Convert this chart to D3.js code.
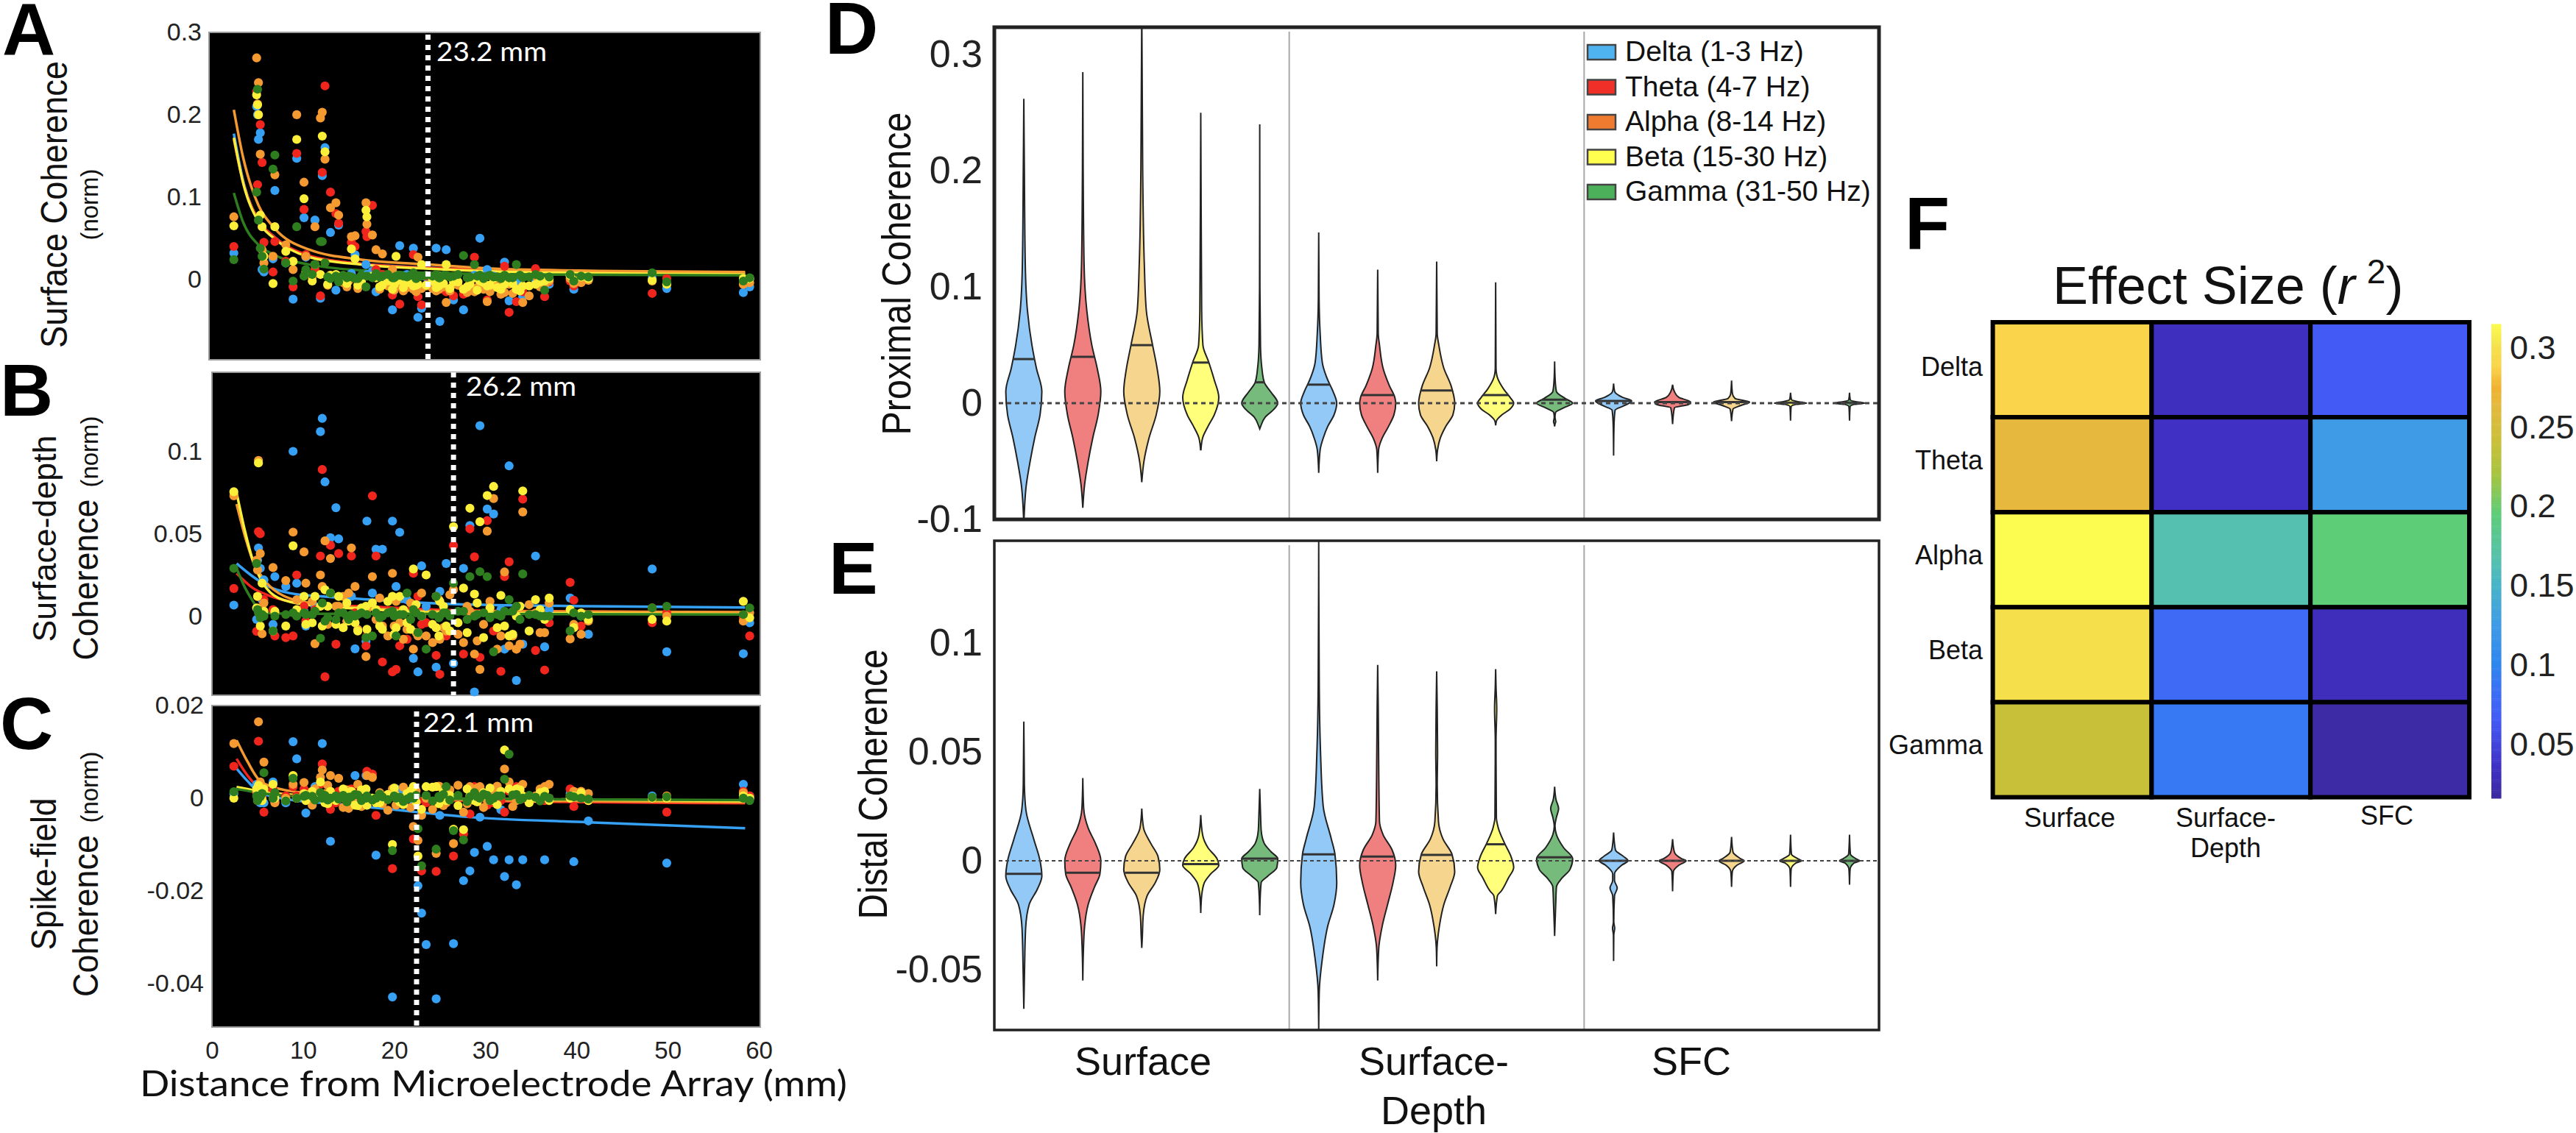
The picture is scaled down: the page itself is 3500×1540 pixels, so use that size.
<!DOCTYPE html>
<html>
<head>
<meta charset="utf-8">
<script src="https://cdn.jsdelivr.net/npm/d3@7"></script>
<style>
    html, body { margin: 0; padding: 0; background: #fff; }
    svg { display: block; }
</style>
</head>
<body>
<div id="chart"></div>
<script>
// Contact distance from the array (mm), one entry per column in the band arrays below
const distances = [
    2.4, 4.9, 5.0, 5.1, 5.3, 5.5, 5.7, 6.7, 6.9, 8.1,
    8.9, 9.3, 10.1, 10.3, 11.3, 11.9, 12.1, 12.4, 13.0, 13.6,
    13.9, 15.3, 15.7, 16.9, 17.0, 17.6, 18.0, 18.7, 19.8, 20.2,
    20.6, 21.4, 22.1, 22.6, 23.0, 23.5, 24.6, 25.0, 25.7, 26.5,
    27.6, 28.3, 28.8, 29.4, 30.2, 30.9, 31.7, 32.1, 32.6, 33.4,
    34.1, 35.5, 36.5, 37.0, 39.3, 39.7, 40.5, 41.3, 48.3, 49.9,
    58.3, 59.0
];
// Further contacts inside the dense band, only read for the top three layers
const denseDistances = [
    11.0, 12.7, 14.4, 14.8, 15.0, 16.0, 16.4, 18.4, 19.3, 20.0,
    21.0, 21.8, 22.4, 24.2, 24.9, 25.4, 26.1, 27.0, 28.0, 29.1,
    29.8, 30.5, 31.3, 33.0, 33.8, 34.8, 36.0
];

const bandColors = ['#36a0f5', '#f0261e', '#f59a30', '#fcef3a', '#2e7d1e'];

// Panel A, surface coherence
const surfaceDelta = [
    .032, .21, .2, .17, .178, .012, .009, .025, .108, .02,
    -.024, .147, .075, .027, .072, -.023, .126, .16, .057, -.013,
    .066, .007, .03, .018, .006, .01, -.015, .004, -.037, -.002,
    .041, .006, .038, -.046, -.035, .003, .038, -.051, .036, -.025,
    -.037, -.006, .005, .05, .012, .004, -.006, .021, -.026, -.002,
    -.021, -.004, -.008, -.006, .004, -.012, -.003, 0, .001, -.011,
    -.016, -.009
];
const surfaceTheta = [
    .04, .228, .115, .2, .188, .142, .045, .009, .046, .022,
    -.009, .153, .085, .03, .012, -.02, .13, .235, .106, .08,
    .068, .045, .04, .058, .052, .09, .012, .006, -.019, -.006,
    -.03, .002, .03, -.021, -.031, .004, -.008, -.012, -.015, -.02,
    -.018, -.01, .027, -.005, -.025, -.006, -.012, .016, -.04, -.027,
    -.015, .013, -.021, -.003, -.002, -.008, -.002, .002, -.017, .001,
    -.003, .001
];
const surfaceAlpha = [
    .076, .269, .213, .239, .152, .036, .02, .028, .127, .042,
    .012, .2, .118, .028, .064, .196, .203, .146, .087, .093,
    .078, .052, .053, .093, .067, .054, .036, .031, .012, -.002,
    -.008, -.01, -.012, .027, -.011, -.008, -.014, -.005, -.028, -.006,
    -.012, -.003, -.015, -.002, -.027, -.008, -.018, -.016, -.006, -.012,
    -.028, .004, -.006, -.002, .001, -.005, -.004, -.001, -.002, -.005,
    -.006, -.004
];
const surfaceBeta = [
    .065, .224, .212, .2, .078, .064, .028, -.005, .064, .034,
    .022, .17, .098, .009, .018, .006, .174, .155, .005, .006,
    .004, .037, .025, .084, .076, .004, .002, -.007, -.012, .028,
    -.001, -.004, -.008, -.006, .018, -.007, -.01, .004, .018, -.003,
    -.012, -.006, .002, -.002, -.008, .001, -.012, -.006, .002, -.012,
    -.008, -.006, -.002, .001, .005, -.001, .003, .001, -.001, -.006,
    .001, .001
];
const surfaceGamma = [
    .024, .106, .231, .072, .038, .028, .0125, .134, .151, .02,
    -.002, .064, .004, .012, .018, .046, .046, .02, .001, .004,
    -.003, .003, .001, -.009, .004, .002, .007, .004, .002, .004,
    .005, .003, .008, .003, .004, .005, .006, .002, .005, .004,
    .029, .003, .018, .005, .004, .003, .001, .005, .002, .018,
    .002, .006, -.013, .003, .006, -.002, .004, .003, .008, -.003,
    -.002, .002
];
const surfaceAlphaDense = [
    .003, -.007, -.004, -.009, -.002, -.011, -.006, -.012, -.008, -.013,
    -.014, -.009, -.015, -.011, -.012, -.009, -.014, -.007, -.016, -.01,
    -.012, -.015, -.007, -.017, -.011, -.02, -.009
];
const surfaceBetaDense = [
    -.002, -.006, .001, -.005, .002, -.007, -.003, -.009, -.002, -.006,
    -.01, -.004, -.007, -.002, -.008, -.005, -.011, -.003, -.009, -.013,
    -.004, -.007, -.01, -.005, -.014, -.008, -.003
];
const surfaceGammaDense = [
    .006, .003, .005, .002, .004, .001, .005, .003, .006, .002,
    .004, .005, .001, .004, .002, .005, .003, .006, .002, .004,
    .001, .005, .003, .002, .005, .003, .004
];

// Panel B, surface-depth coherence
const depthDelta = [
    .0067, -.002, .034, .0414, .029, .01, .022, -.005, .024, .018,
    .1, .02, .003, -.006, .006, .112, .12, .0815, .0476, .0658,
    .0469, .012, -.0198, -.0153, .0577, .014, .0406, .0406, .0577, .018,
    .0509, .01, -.0256, -.0338, .0305, .006, -.031, .015, .032, -.0287,
    .029, .055, -.046, .1156, .065, .062, .004, -.02, .0912, -.039,
    -.017, .0365, -.0186, .004, .011, -.006, 0, -.011, .0286, -.0216,
    -.0228, -.004
];
const depthTheta = [
    .0168, -.0092, .012, .0513, .05, .006, .01, .004, -.012, -.013,
    -.012, .025, .006, -.003, .004, .0365, .089, -.0368, .043, -.017,
    .038, .0365, .002, -.018, -.012, .073, .0365, -.0278, -.0338, -.0323,
    -.018, -.014, .026, .012, -.005, -.004, -.0238, -.0353, -.012, .0428,
    -.023, .053, .036, -.025, .058, -.009, -.0335, .024, .033, -.02,
    .071, -.0208, -.0327, -.004, .0205, .0097, -.006, -.002, -.004, .002,
    -.001, -.012
];
const depthAlpha = [
    .073, .034, .028, .0945, .038, -.0107, .008, .0295, .002, .0216,
    .051, .01, .039, .02, -.0167, .025, .018, .0457, .035, .006,
    .006, .0414, .018, -.0245, .004, .024, -.002, -.006, .026, .009,
    -.004, -.008, -.02, -.012, .014, -.012, .012, -.014, -.009, .016,
    -.016, .003, -.023, -.0323, .0516, .0714, -.012, .0268, -.018, -.02,
    .0632, .002, -.01, .008, -.0138, -.005, -.011, -.003, .005, 0,
    -.003, .002
];
const depthBeta = [
    .0755, .005, .012, .093, -.006, .02, .003, -.009, .003, -.006,
    .0427, .004, .012, -.005, .012, .006, -.006, .016, .014, -.005,
    .012, 0, -.004, .006, -.008, .008, .004, -.008, .012, -.007,
    .012, -.004, .0286, -.01, 0, .025, -.007, .009, -.006, .0543,
    .017, .0655, .0134, .0573, .0732, .0787, .0126, -.006, -.012, 0,
    .076, .01, -.002, .011, .004, -.007, .002, -.002, -.002, -.003,
    .009, -.001
];
const depthGamma = [
    .029, .032, .004, .002, -.001, .001, 0, -.009, 0, .001,
    .002, 0, .002, .001, .003, -.0134, .008, -.003, .014, -.002,
    .002, .001, 0, -.013, .001, -.012, .002, 0, .003, -.012,
    .001, .014, .004, -.01, 0, -.02, .012, 0, .002, .02,
    .003, .024, 0, .027, .024, -.0216, 0, .003, .01, .006,
    .0256, .001, 0, 0, -.009, .002, 0, .001, .005, .006,
    .001, .005
];
const depthAlphaDense = [
    .009, -.005, .012, -.003, .014, -.008, .003, .011, -.012, -.006,
    -.014, .008, -.01, -.016, .01, -.007, .013, -.011, .006, -.015,
    -.005, .009, -.02, -.012, -.017, .007, -.01
];
const depthBetaDense = [
    -.004, .006, -.007, .008, -.003, -.009, .005, -.006, .009, -.011,
    .004, -.008, .007, -.005, -.012, .006, -.009, -.004, -.01, .008,
    -.013, .005, -.007, -.011, .006, -.009, .004
];
const depthGammaDense = [
    .001, -.001, .002, 0, -.002, .001, .002, -.001, .002, 0,
    .001, -.002, .002, .001, -.001, .002, 0, .003, -.002, .001,
    .002, -.001, .001, .003, -.002, .001, 0
];

// Panel C, spike-field coherence
const sfcDelta = [
    .001, .003, .002, 0, -.001, .002, -.001, .0035, -.0005, -.001,
    .0122, .0085, 0, -.0032, .0025, .001, .0118, 0, -.0093, .0005,
    .0005, .001, .0049, .0049, -.0015, 0, -.0123, 0, -.0429, .002,
    .001, 0, -.0005, -.0189, -.0248, -.0316, -.0433, -.0037, 0, -.0314,
    -.0178, -.0157, -.0117, -.0041, -.0104, -.0133, -.0025, -.0169, -.0133, -.0187,
    -.0133, 0, -.0133, 0, .001, -.0137, .0005, -.0049, .0005, -.014,
    .003, .0005
];
const sfcTheta = [
    .0069, .0012, .0005, .0123, .001, 0, -.003, .002, -.0008, .0005,
    .0025, .0005, .002, 0, .0015, .003, .0074, 0, -.0024, -.001,
    .0015, .002, .001, 0, .0058, .0052, -.0037, .0005, -.0152, 0,
    0, .0005, -.0088, -.0005, -.0157, -.001, -.0158, 0, .002, -.0125,
    -.0077, -.0034, .0025, 0, -.0015, -.001, -.0005, -.003, .0015, .0025,
    .0005, 0, -.0005, 0, .002, -.0018, .0005, -.0005, 0, -.003,
    .0015, .0005
];
const sfcAlpha = [
    .0118, .0015, -.0005, .0165, .0035, 0, .0078, 0, -.001, 0,
    .003, 0, .0034, 0, .002, .0045, .0061, .001, .0049, 0,
    .0043, 0, -.0005, -.001, .0049, .0045, 0, -.0012, .002, -.0015,
    0, .0005, -.0061, -.0091, -.0037, 0, -.0119, .0025, -.001, -.0098,
    -.003, .0025, 0, .0025, -.0005, .002, .0005, .0063, .0035, -.0005,
    .003, .0005, .0025, .003, .0005, .0015, .0015, .001, 0, .0005,
    .0012, 0
];
const sfcBeta = [
    0, .002, 0, .0028, .0015, -.0005, .002, .003, 0, -.0005,
    .0049, 0, .001, -.0005, 0, .0035, .0005, -.001, .0015, -.0005,
    0, .0015, -.0015, .002, -.0015, 0, -.001, 0, -.01, .0005,
    -.0008, .001, .0025, -.0125, -.0024, .0025, .0025, 0, -.0005, -.0067,
    -.0068, .0005, -.0005, 0, .0005, -.0005, .0015, .0104, .002, .002,
    .0005, 0, .0015, -.0005, 0, .0005, .0012, -.0005, 0, 0,
    .0005, 0
];
const sfcGamma = [
    .0014, .0005, -.0005, 0, .0003, .001, .0055, 0, .0012, -.0006,
    .0043, 0, .0004, .0006, -.0004, .0012, 0, .0006, 0, .0005,
    -.0002, .0003, .0008, 0, .0005, -.0004, 0, .0003, -.0113, 0,
    .0002, -.0002, 0, -.0066, -.0146, .0006, -.011, 0, .0025, -.007,
    -.009, .0003, .0012, 0, .0006, 0, .0005, .0041, .0095, .0008,
    0, .0002, .0004, 0, .0005, .0003, 0, -.0002, .0002, .0003,
    0, -.0005
];
const sfcAlphaDense = [
    -.0015, .0028, -.002, .0018, -.0022, .003, -.0018, .0012, -.0026, .0014,
    .0024, -.002, .0016, -.0024, .0026, -.0016, .0018, .0028, -.0012, .0022,
    -.002, .0016, .0026, -.0018, .0024, -.0008, .002
];
const sfcBetaDense = [
    .0015, -.0012, .002, -.0006, .0012, -.0016, .0018, -.001, .0008, .0022,
    -.0014, .0016, -.0008, .0024, -.0012, .0014, .0006, -.0016, .002, -.0008,
    .0012, .0022, -.0014, .001, .0018, -.001, .0012
];
const sfcGammaDense = [
    .0004, -.0004, .0006, -.0008, .0002, .0007, -.0005, .0009, -.0003, .0005,
    -.0007, .0003, .0006, -.0006, .0004, .0008, -.0004, .0006, -.0007, .0003,
    .0009, -.0005, .0005, .0007, -.0003, .0006, -.0006
];

// Fitted curves, [distance, value]
const surfaceFits = [
    [[2.4, .177], [3.4, .121], [5.1, .072], [6.8, .052], [10.7, .028], [16.4, .019], [23.8, .014], [33.4, .01], [58.5, .007]],
    [[2.4, .17], [3.4, .119], [5.1, .072], [6.8, .052], [10.7, .029], [16.4, .019], [23.8, .014], [33.4, .011], [58.5, .008]],
    [[2.4, .206], [3.4, .149], [5.1, .09], [6.8, .063], [10.7, .036], [16.4, .024], [23.8, .018], [33.4, .012], [58.5, .009]],
    [[2.4, .172], [3.4, .118], [5.1, .07], [6.8, .05], [10.7, .027], [16.4, .018], [23.8, .013], [33.4, .009], [58.5, .006]],
    [[2.4, .105], [3.4, .07], [5.1, .042], [6.8, .03], [10.7, .018], [16.4, .011], [23.8, .008], [33.4, .006], [58.5, .005]]
];
const depthFits = [
    [[2.7, .032], [4.5, .024], [6.2, .018], [8.5, .014], [11.9, .012], [16.4, .0104], [26.3, .0074], [41.6, .006], [58.5, .0052]],
    [[2.7, .026], [4.5, .017], [6.2, .0126], [8.5, .009], [11.9, .0067], [16.4, .006], [26.3, .0037], [41.6, .0028], [58.5, .0022]],
    [[2.7, .068], [3.65, .048], [4.5, .0335], [5.6, .023], [7.3, .014], [10.7, .008], [16.4, .005], [26.3, .003], [58.5, .0025]],
    [[2.7, .075], [3.65, .051], [4.5, .0335], [5.6, .02], [7.3, .011], [10.7, .0067], [16.4, .0045], [26.3, .002], [58.5, .0012]],
    [[2.7, .029], [3.65, .017], [4.5, .009], [5.4, .002], [8.5, .0015], [58.5, .001]]
];
const sfcFits = [
    [[2.7, .0064], [3.9, .0037], [5.3, .0012], [8.5, -.0003], [13.6, -.0012], [22.1, -.0029], [27.7, -.004], [41.3, -.0052], [58.5, -.0065]],
    [[2.7, .0085], [3.9, .0049], [5.3, .0021], [7.9, .0009], [11.9, .0003], [19.2, -.0003], [58.5, -.0011]],
    [[2.7, .0125], [3.9, .0079], [5.3, .0037], [7.9, .0018], [11.9, .0009], [19.2, 0], [58.5, -.0009]],
    [[2.7, .0024], [6.2, .0012], [11.9, .0005], [22.1, 0], [58.5, -.0006]],
    [[2.7, .002], [6.2, .0009], [11.9, .0002], [22.1, -.0001], [58.5, -.0004]]
];

const breakTicks = [23.7, 26.5, 22.45];
const breakLabels = ['23.2 mm', '26.2 mm', '22.1 mm'];
const surfaceTicks = [0, .1, .2, .3];
const depthTicks = [0, .05, .1];
const sfcTicks = [-.04, -.02, 0, .02];
const distanceTicks = [0, 10, 20, 30, 40, 50, 60];

// Violin profiles, [value, relative density], top to bottom, five per measure
const violinFills = ['#92c9f7', '#f08080', '#f6d68e', '#ffff7c', '#76bb7c'];
const proximalMedians = [.038, .04, .05, .035, .018, .016, .007, .011, .007, .003, .002, .001, .001, .0005, .0005];
const proximalProfiles = [
    [[.262, 0], [.2, .03], [.12, .08], [.08, .2], [.05, .45], [.03, .7], [.01, 1], [-.01, .9], [-.03, .6], [-.05, .35], [-.07, .14], [-.1, .01]],
    [[.285, 0], [.2, .02], [.12, .07], [.08, .22], [.05, .5], [.03, .8], [.01, 1], [-.01, .85], [-.03, .55], [-.05, .3], [-.07, .1], [-.09, 0]],
    [[.3236, .005], [.2, .05], [.12, .14], [.08, .25], [.05, .6], [.03, .85], [.01, 1], [-.01, .8], [-.03, .4], [-.05, .12], [-.068, 0]],
    [[.25, 0], [.17, .02], [.08, .05], [.05, .12], [.035, .45], [.02, .75], [.005, 1], [-.01, .75], [-.02, .4], [-.03, .1], [-.04, .01]],
    [[.24, 0], [.1, .01], [.05, .04], [.03, .12], [.018, .25], [.01, .6], [0, 1], [-.005, .8], [-.012, .3], [-.02, .05], [-.022, 0]],
    [[.147, 0], [.09, .02], [.06, .08], [.035, .2], [.02, .5], [.01, .8], [0, 1], [-.01, .85], [-.02, .5], [-.03, .25], [-.04, .08], [-.06, 0]],
    [[.115, 0], [.06, .03], [.05, .1], [.03, .3], [.015, .65], [.005, .95], [0, 1], [-.01, .9], [-.02, .6], [-.03, .25], [-.04, .05], [-.06, 0]],
    [[.122, 0], [.06, .03], [.05, .12], [.03, .4], [.015, .8], [0, 1], [-.01, .9], [-.02, .5], [-.03, .2], [-.04, .05], [-.05, 0]],
    [[.104, 0], [.03, .02], [.022, .1], [.012, .45], [.005, .8], [0, 1], [-.005, .8], [-.01, .35], [-.015, .05], [-.019, 0]],
    [[.036, 0], [.02, .03], [.01, .1], [.004, .6], [0, 1], [-.004, .5], [-.008, .05], [-.012, .02], [-.016, .06], [-.018, .02], [-.02, 0]],
    [[.017, 0], [.01, .06], [.005, .5], [.002, 1], [-.002, .6], [-.006, .08], [-.02, .02], [-.045, 0]],
    [[.016, 0], [.01, .1], [.005, .35], [.001, 1], [-.001, .9], [-.004, .1], [-.018, 0]],
    [[.0195, 0], [.008, .05], [.004, .2], [.001, 1], [-.002, .5], [-.005, .08], [-.0155, 0]],
    [[.009, 0], [.003, .05], [.001, .5], [0, .9], [-.001, .3], [-.003, .03], [-.015, 0]],
    [[.009, 0], [.003, .04], [.001, .45], [0, .85], [-.001, .25], [-.003, .03], [-.015, 0]]
];
const distalMedians = [-.006, -.0055, -.0055, -.0015, .001, .003, .002, .0027, .0076, .0016, 0, 0, 0, 0, 0];
const distalProfiles = [
    [[.064, 0], [.035, .03], [.023, .12], [.01, .55], [0, .9], [-.007, 1], [-.013, .75], [-.02, .3], [-.031, .1], [-.05, .04], [-.068, 0]],
    [[.038, 0], [.024, .05], [.015, .3], [.008, .7], [0, 1], [-.006, .95], [-.012, .65], [-.02, .3], [-.03, .1], [-.042, .03], [-.055, 0]],
    [[.024, 0], [.015, .1], [.008, .5], [.002, .9], [-.004, 1], [-.01, .75], [-.016, .3], [-.025, .08], [-.035, .03], [-.04, 0]],
    [[.021, 0], [.012, .1], [.006, .4], [.001, .9], [-.002, 1], [-.006, .55], [-.01, .2], [-.016, .05], [-.024, 0]],
    [[.033, 0], [.02, .05], [.014, .08], [.008, .25], [.004, .65], [.001, 1], [-.003, .95], [-.007, .45], [-.01, .08], [-.018, .02], [-.025, 0]],
    [[.147, 0], [.08, .03], [.05, .1], [.025, .25], [.01, .7], [.003, .9], [-.01, 1], [-.02, .85], [-.03, .5], [-.045, .2], [-.06, .03], [-.0777, 0]],
    [[.09, 0], [.07, .03], [.04, .06], [.018, .1], [.012, .3], [.005, .8], [-.002, 1], [-.01, .85], [-.02, .55], [-.03, .25], [-.04, .06], [-.055, 0]],
    [[.087, 0], [.07, .03], [.05, .05], [.035, .03], [.018, .1], [.01, .35], [.003, .85], [-.005, 1], [-.012, .75], [-.02, .4], [-.03, .15], [-.04, .02], [-.0485, 0]],
    [[.088, 0], [.08, .02], [.07, .06], [.055, .02], [.02, .04], [.015, .15], [.008, .5], [.002, .85], [-.003, 1], [-.008, .7], [-.014, .3], [-.016, .1], [-.0245, 0]],
    [[.034, 0], [.028, .08], [.024, .22], [.02, .1], [.016, .02], [.012, .1], [.006, .5], [.001, 1], [-.004, .85], [-.008, .4], [-.012, .1], [-.02, .06], [-.0345, 0]],
    [[.013, 0], [.005, .1], [.002, .55], [0, .8], [-.002, .45], [-.006, .05], [-.009, .05], [-.0125, .2], [-.016, .05], [-.028, .01], [-.031, .06], [-.034, .01], [-.046, 0]],
    [[.01, 0], [.004, .1], [.001, .5], [0, .75], [-.002, .35], [-.005, .04], [-.014, 0]],
    [[.011, 0], [.004, .08], [.001, .5], [0, .7], [-.002, .3], [-.005, .04], [-.012, 0]],
    [[.012, 0], [.003, .05], [.001, .4], [0, .6], [-.001, .3], [-.004, .03], [-.012, 0]],
    [[.012, 0], [.003, .05], [.001, .35], [0, .55], [-.001, .25], [-.004, .03], [-.011, 0]]
];
const proximalTicks = [-.1, 0, .1, .2, .3];
const distalTicks = [-.05, 0, .05, .1];
const groupBreaks = [5.5, 10.5];
const legendLabels = ['Delta (1-3 Hz)', 'Theta (4-7 Hz)', 'Alpha (8-14 Hz)', 'Beta (15-30 Hz)', 'Gamma (31-50 Hz)'];
const legendColors = ['#4fb3f0', '#f03028', '#ef7b30', '#ffff50', '#4caf5a'];

// Effect size heatmap
const heatRows = ['Delta', 'Theta', 'Alpha', 'Beta', 'Gamma'];
const heatColumns = ['Surface', 'Surface-Depth', 'SFC'];
const heatSurface = [.288, .265, .315, .3, .24];
const heatDepth = [.032, .035, .165, .078, .09];
const heatSfc = [.065, .125, .195, .03, .018];
const colorbarTicks = [.05, .1, .15, .2, .25, .3];
const parulaStops = [.016, .035, .065, .085, .1, .125, .15, .165, .195, .22, .24, .265, .275, .288, .3, .315];
const parulaColors = ['#3b2aa0', '#4030c4', '#445af5', '#3a72f5', '#2e86ee', '#3f9be6', '#48b4c8', '#55c0b0', '#5ecd78',
    '#a8c440', '#c9c03a', '#e6b93e', '#f0b230', '#fad44a', '#f5e04c', '#fcfc50'];

const FONT = '"Liberation Sans", Arial, sans-serif';
const svg = d3.select('#chart').append('svg')
    .attr('width', 3500)
    .attr('height', 1540)
    .attr('font-family', FONT);

function label(text, x, y, size, opts = {}) {
    const t = svg.append('text')
        .attr('x', x)
        .attr('y', y)
        .attr('font-size', size)
        .attr('fill', opts.fill || '#111')
        .attr('text-anchor', opts.anchor || 'start')
        .text(text);
    if (opts.weight) t.attr('font-weight', opts.weight);
    if (opts.family) t.attr('font-family', opts.family);
    if (opts.length) t.attr('textLength', opts.length).attr('lengthAdjust', 'spacingAndGlyphs');
    return t;
}

function sideLabel(text, baseX, centerY, size, length) {
    svg.append('text')
        .attr('transform', 'translate(' + baseX + ',' + centerY + ') rotate(-90)')
        .attr('text-anchor', 'middle')
        .attr('font-size', size)
        .attr('fill', '#111')
        .attr('textLength', length)
        .attr('lengthAdjust', 'spacingAndGlyphs')
        .text(text);
}

function leftAxis(scale, x, ticks, size, padding) {
    const g = svg.append('g')
        .attr('transform', 'translate(' + x + ',0)')
        .call(d3.axisLeft(scale).tickValues(ticks).tickSize(0).tickPadding(padding).tickFormat(d => d));
    g.select('.domain').remove();
    g.selectAll('text').attr('font-size', size).attr('font-family', FONT).attr('fill', '#222');
}

// Panels A to C
const xDistance = d3.scaleLinear().domain([0, 60]).range([288, 1031]);
const fitLine = (y) => d3.line().x(d => xDistance(d[0])).y(d => y(d[1])).curve(d3.curveMonotoneX);

function scatterPanel(y, left, bands, denseBands, fits, dashTop, breakIndex, labelX, labelY, ticks, padding) {
    const [bottom, top] = y.range();
    svg.append('rect')
        .attr('x', left)
        .attr('y', top)
        .attr('width', 1033 - left)
        .attr('height', bottom - top)
        .attr('fill', '#000')
        .attr('stroke', '#9a9a9a')
        .attr('stroke-width', 2);

    const line = fitLine(y);
    svg.append('g').selectAll('path')
        .data(fits)
        .enter()
        .append('path')
        .attr('d', line)
        .attr('fill', 'none')
        .attr('stroke', (d, i) => bandColors[i])
        .attr('stroke-width', 3.5);

    bands.forEach((values, b) => {
        const points = values.map((v, i) => [distances[i], v]);
        const dense = b >= 2 ? denseBands[b - 2].map((v, i) => [denseDistances[i], v]) : [];
        svg.append('g').selectAll('circle')
            .data(points.concat(dense))
            .enter()
            .append('circle')
            .attr('cx', d => xDistance(d[0]))
            .attr('cy', d => y(d[1]))
            .attr('r', 6.1)
            .attr('fill', bandColors[b]);
    });

    svg.append('line')
        .attr('x1', xDistance(breakTicks[breakIndex]))
        .attr('x2', xDistance(breakTicks[breakIndex]))
        .attr('y1', dashTop)
        .attr('y2', bottom)
        .attr('stroke', '#fff')
        .attr('stroke-width', 7)
        .attr('stroke-dasharray', '7,7');

    label(breakLabels[breakIndex], labelX, labelY, 37, { fill: '#fff', family: 'Lato', length: 150 });
    leftAxis(y, left, ticks, 34, padding);
}

const ySurface = d3.scaleLinear().domain([-.0976, .3]).range([489, 44]);
const yDepth = d3.scaleLinear().domain([-.048, .148]).range([945, 506]);
const ySfc = d3.scaleLinear().domain([-.0494, .02]).range([1396, 959]);

scatterPanel(ySurface, 284, [surfaceDelta, surfaceTheta, surfaceAlpha, surfaceBeta, surfaceGamma],
    [surfaceAlphaDense, surfaceBetaDense, surfaceGammaDense], surfaceFits, 47, 0, 593, 83, surfaceTicks, 10);
scatterPanel(yDepth, 288, [depthDelta, depthTheta, depthAlpha, depthBeta, depthGamma],
    [depthAlphaDense, depthBetaDense, depthGammaDense], depthFits, 506, 1, 633, 538, depthTicks, 13);
scatterPanel(ySfc, 288, [sfcDelta, sfcTheta, sfcAlpha, sfcBeta, sfcGamma],
    [sfcAlphaDense, sfcBetaDense, sfcGammaDense], sfcFits, 967, 2, 575, 995, sfcTicks, 11);

const xAxisG = svg.append('g')
    .attr('transform', 'translate(0,1396)')
    .call(d3.axisBottom(xDistance).tickValues(distanceTicks).tickSize(0).tickPadding(20));
xAxisG.select('.domain').remove();
xAxisG.selectAll('text').attr('font-size', 33).attr('font-family', FONT).attr('fill', '#222');

label('Distance from Microelectrode Array (mm)', 190, 1490, 49, { family: 'Lato', length: 961 });

sideLabel('Surface Coherence', 91, 278, 50, 390);
sideLabel('(norm)', 133, 278, 33, 97);
sideLabel('Surface-depth', 76, 732, 45, 281);
sideLabel('Coherence', 133, 788, 49, 219);
sideLabel('(norm)', 133, 614, 33, 97);
sideLabel('Spike-field', 76, 1188, 49, 207);
sideLabel('Coherence', 133, 1245, 49, 220);
sideLabel('(norm)', 133, 1070, 33, 97);

// Panels D and E
const xViolin = d3.scaleLinear().domain([.5, 15.5]).range([1351, 2553]);
const halfWidth = d3.scaleLinear().domain([0, 1]).range([0, 24.5]);

function densityAt(profile, value) {
    for (let i = 1; i < profile.length; i++) {
        const a = profile[i - 1], b = profile[i];
        if (value <= a[0] && value >= b[0]) {
            return a[1] + (b[1] - a[1]) * (a[0] - value) / (a[0] - b[0]);
        }
    }
    return 0;
}

function violinPanel(y, profiles, medians, frameWidth, dashWidth, breakTop) {
    const [bottom, top] = y.range();
    const [left, right] = xViolin.range();
    svg.append('rect')
        .attr('x', left)
        .attr('y', top)
        .attr('width', right - left)
        .attr('height', bottom - top)
        .attr('fill', '#fff');

    svg.append('g').selectAll('line')
        .data(groupBreaks)
        .enter()
        .append('line')
        .attr('x1', d => xViolin(d))
        .attr('x2', d => xViolin(d))
        .attr('y1', breakTop)
        .attr('y2', bottom)
        .attr('stroke', '#a8a8a8')
        .attr('stroke-width', 2);

    profiles.forEach((profile, i) => {
        const cx = xViolin(i + 1);
        const area = d3.area()
            .y(d => y(d[0]))
            .x0(d => cx - halfWidth(d[1]))
            .x1(d => cx + halfWidth(d[1]))
            .curve(d3.curveMonotoneY);

        svg.append('path')
            .attr('d', area(profile))
            .attr('fill', violinFills[i % 5])
            .attr('stroke', '#222')
            .attr('stroke-width', 2);

        const w = halfWidth(densityAt(profile, medians[i]));
        svg.append('line')
            .attr('x1', cx - w)
            .attr('x2', cx + w)
            .attr('y1', y(medians[i]))
            .attr('y2', y(medians[i]))
            .attr('stroke', '#333')
            .attr('stroke-width', 3);
    });

    svg.append('line')
        .attr('x1', left + 6)
        .attr('x2', right)
        .attr('y1', y(0))
        .attr('y2', y(0))
        .attr('stroke', '#444')
        .attr('stroke-width', dashWidth)
        .attr('stroke-dasharray', dashWidth === 3 ? '6,5' : '5,4');

    svg.append('rect')
        .attr('x', left)
        .attr('y', top)
        .attr('width', right - left)
        .attr('height', bottom - top)
        .attr('fill', 'none')
        .attr('stroke', '#222')
        .attr('stroke-width', frameWidth);
}

const yProximal = d3.scaleLinear().domain([-.1, .3236]).range([706, 37]);
const yDistal = d3.scaleLinear().domain([-.0777, .147]).range([1400, 735]);

violinPanel(yProximal, proximalProfiles, proximalMedians, 5, 3, 43);
violinPanel(yDistal, distalProfiles, distalMedians, 3.5, 2, 741);

leftAxis(yProximal, 1351, proximalTicks, 52, 16);
leftAxis(yDistal, 1351, distalTicks, 52, 16);
sideLabel('Proximal Coherence', 1237, 372, 56, 439);
sideLabel('Distal Coherence', 1205, 1066, 56, 367);

label('Surface', 1553, 1461, 54, { anchor: 'middle' });
label('Surface-', 1948, 1461, 54, { anchor: 'middle' });
label('Depth', 1948, 1528, 54, { anchor: 'middle' });
label('SFC', 2298, 1461, 54, { anchor: 'middle' });

legendLabels.forEach((name, i) => {
    const base = 83 + i * 47.5;
    svg.append('rect')
        .attr('x', 2157)
        .attr('y', base - 22)
        .attr('width', 38)
        .attr('height', 20)
        .attr('fill', legendColors[i])
        .attr('stroke', '#444')
        .attr('stroke-width', 2.5);
    label(name, 2208, base, 39);
});

// Panel F
const heatColor = d3.scaleLinear().domain(parulaStops).range(parulaColors);
const xHeat = d3.scaleBand().domain(heatColumns).range([2707.6, 3355]);
const yHeat = d3.scaleBand().domain(heatRows).range([438, 1083.6]);

[heatSurface, heatDepth, heatSfc].forEach((column, c) => {
    svg.append('g').selectAll('rect')
        .data(column)
        .enter()
        .append('rect')
        .attr('x', xHeat(heatColumns[c]))
        .attr('y', (d, i) => yHeat(heatRows[i]))
        .attr('width', xHeat.bandwidth())
        .attr('height', yHeat.bandwidth())
        .attr('fill', d => heatColor(d))
        .attr('stroke', '#000')
        .attr('stroke-width', 6);
});

heatRows.forEach((name, i) => {
    label(name, 2694, yHeat(name) + yHeat.bandwidth() / 2 + 6 + (i === 0 ? 2 : 0), 36, { anchor: 'end' });
});

label('Surface', 2812, 1124, 36, { anchor: 'middle' });
label('Surface-', 3024, 1124, 36, { anchor: 'middle' });
label('Depth', 3024, 1165, 36, { anchor: 'middle' });
label('SFC', 3243, 1121, 36, { anchor: 'middle' });

const title = label('Effect Size (', 2789, 413, 72);
title.append('tspan').attr('font-style', 'italic').text('r');
title.append('tspan').attr('font-size', 46).attr('dx', 16).attr('dy', -28).text('2');
title.append('tspan').attr('dy', 28).text(')');

const yColorbar = d3.scaleLinear().domain([.0161, .315]).range([1085, 440.6]);
svg.append('g').selectAll('rect')
    .data(d3.range(.0161, .315, .001))
    .enter()
    .append('rect')
    .attr('x', 3385)
    .attr('y', d => yColorbar(d + .001))
    .attr('width', 13.5)
    .attr('height', yColorbar(0) - yColorbar(.001) + .5)
    .attr('fill', d => heatColor(d));

const barAxis = svg.append('g')
    .attr('transform', 'translate(3398,0)')
    .call(d3.axisRight(yColorbar).tickValues(colorbarTicks).tickSize(0).tickPadding(12).tickFormat(d => d));
barAxis.select('.domain').remove();
barAxis.selectAll('text').attr('font-size', 45).attr('font-family', FONT).attr('fill', '#222');

// Panel letters
[['A', 3, 75], ['B', 0, 565], ['C', 0, 1018], ['D', 1121, 73], ['E', 1126, 807], ['F', 2588, 338]].forEach(d => {
    label(d[0], d[1], d[2], 100, { weight: 700, fill: '#000' });
});
</script>
</body>
</html>
